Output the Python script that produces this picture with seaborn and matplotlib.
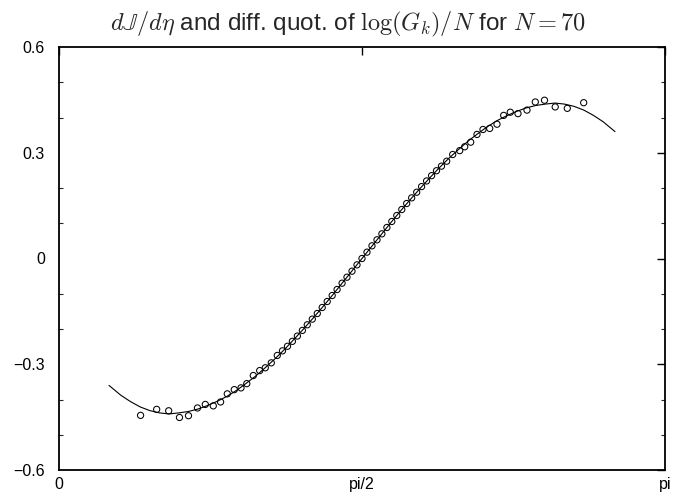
import numpy as np
import pandas as pd
import matplotlib
matplotlib.use("Agg")
import matplotlib.pyplot as plt
from matplotlib.ticker import FixedLocator, FixedFormatter, MultipleLocator
import seaborn as sns

# eta values of the difference quotients (N = 70)
eta_points = [
    0.4230, 0.5065, 0.5687, 0.6247, 0.6714, 0.7180, 0.7585, 0.7999, 0.8378,
    0.8725, 0.9088, 0.9435, 0.9736, 1.0073, 1.0405, 1.0695, 1.1006, 1.1317,
    1.1587, 1.1846, 1.2100, 1.2359, 1.2618, 1.2872, 1.3132, 1.3391, 1.3645,
    1.3904, 1.4163, 1.4417, 1.4676, 1.4930, 1.5190, 1.5449,
    1.5708,
    1.5967, 1.6226, 1.6486, 1.6740, 1.6999, 1.7253, 1.7512, 1.7771, 1.8025,
    1.8284, 1.8544, 1.8798, 1.9057, 1.9316, 1.9570, 1.9829, 2.0099, 2.0410,
    2.0773, 2.1032, 2.1343, 2.1670, 2.1981, 2.2328, 2.2706, 2.3054, 2.3396,
    2.3795, 2.4262, 2.4692, 2.5169, 2.5724, 2.6351, 2.7201,
]
# difference quotient of log(G_k)/N
quot_points = [
    -0.445, -0.428, -0.432, -0.451, -0.446, -0.424, -0.414, -0.418, -0.407,
    -0.384, -0.372, -0.367, -0.355, -0.332, -0.318, -0.310, -0.296, -0.275,
    -0.262, -0.249, -0.235, -0.220, -0.204, -0.188, -0.172, -0.156, -0.139,
    -0.122, -0.105, -0.088, -0.070, -0.053, -0.036, -0.018,
    0.000,
    0.018, 0.036, 0.053, 0.070, 0.088, 0.105, 0.122, 0.139, 0.156,
    0.172, 0.188, 0.204, 0.220, 0.235, 0.249, 0.262, 0.276, 0.295,
    0.306, 0.317, 0.330, 0.352, 0.366, 0.369, 0.381, 0.406, 0.415,
    0.411, 0.421, 0.444, 0.449, 0.430, 0.426, 0.442,
]

# dJ/deta curve
eta_curve = [
    0.2593, 0.3208, 0.3708, 0.4208, 0.4708, 0.5208, 0.5708, 0.6208, 0.6708,
    0.7208, 0.7708, 0.8208, 0.8708, 0.9208, 0.9708, 1.0208, 1.0708, 1.1208,
    1.1708, 1.2208, 1.2708, 1.3208, 1.3708, 1.4208, 1.4708, 1.5208, 1.5708,
    1.6208, 1.6708, 1.7208, 1.7708, 1.8208, 1.8708, 1.9208, 1.9708, 2.0208,
    2.0708, 2.1208, 2.1708, 2.2208, 2.2708, 2.3208, 2.3708, 2.4208, 2.4708,
    2.5208, 2.5708, 2.6208, 2.6708, 2.7208, 2.7708, 2.8208, 2.8823,
]
dJ_curve = [
    -0.360, -0.388, -0.406, -0.421, -0.4315, -0.438, -0.441, -0.438, -0.434,
    -0.427, -0.417, -0.405, -0.391, -0.374, -0.354, -0.333, -0.309, -0.284,
    -0.257, -0.228, -0.198, -0.167, -0.135, -0.102, -0.068, -0.034, 0.000,
    0.034, 0.068, 0.102, 0.135, 0.167, 0.198, 0.228, 0.257, 0.284,
    0.309, 0.333, 0.354, 0.374, 0.391, 0.405, 0.417, 0.427, 0.434,
    0.438, 0.441, 0.438, 0.4315, 0.421, 0.406, 0.388, 0.360,
]

x_ticks = [0.0, np.pi / 2, np.pi]
x_tick_labels = ["0", "pi/2", "pi"]
y_ticks = [-0.6, -0.3, 0.0, 0.3, 0.6]
y_tick_labels = ["\u22120.6", "\u22120.3", "0", "0.3", "0.6"]

sns.set_theme(style="white")
plt.rcParams["font.family"] = ["Liberation Sans", "DejaVu Sans"]
plt.rcParams["mathtext.fontset"] = "cm"

pts = pd.DataFrame({"eta": eta_points, "q": quot_points})
crv = pd.DataFrame({"eta": eta_curve, "dJ": dJ_curve})

fig = plt.figure(figsize=(6.85, 5.0), dpi=100)
ax = fig.add_axes([0.0861, 0.06, 0.8847, 0.846])

sns.lineplot(data=crv, x="eta", y="dJ", ax=ax, color="black", linewidth=0.8,
             sort=False, estimator=None)
sns.scatterplot(data=pts, x="eta", y="q", ax=ax, marker="o", s=20,
                facecolors="none", edgecolor="black", linewidth=0.75, zorder=3)

ax.set_xlim(0, np.pi)
ax.set_ylim(-0.6, 0.6)
ax.xaxis.set_major_locator(FixedLocator(x_ticks))
ax.xaxis.set_major_formatter(FixedFormatter(x_tick_labels))
ax.yaxis.set_major_locator(FixedLocator(y_ticks))
ax.yaxis.set_major_formatter(FixedFormatter(y_tick_labels))
ax.yaxis.set_minor_locator(MultipleLocator(0.1))

ax.tick_params(axis="both", which="major", direction="in", length=6, width=1.0,
               top=True, right=True, labelsize=11.5, colors="black")
ax.tick_params(axis="y", which="major", pad=10)
ax.tick_params(axis="x", which="major", pad=5)
ax.tick_params(axis="y", which="minor", direction="in", length=3, width=0.8,
               left=True, right=True)
ax.set_xlabel("")
ax.set_ylabel("")
for s in ax.spines.values():
    s.set_linewidth(1.3)
    s.set_color("black")

fig.suptitle(r"$d\mathbb{J}/d\eta$ and diff. quot. of $\log(G_k)/N$ for $N=70$",
             x=0.508, y=0.98, fontsize=17.5, va="top")

fig.savefig("out.png", dpi=100, facecolor="white")
